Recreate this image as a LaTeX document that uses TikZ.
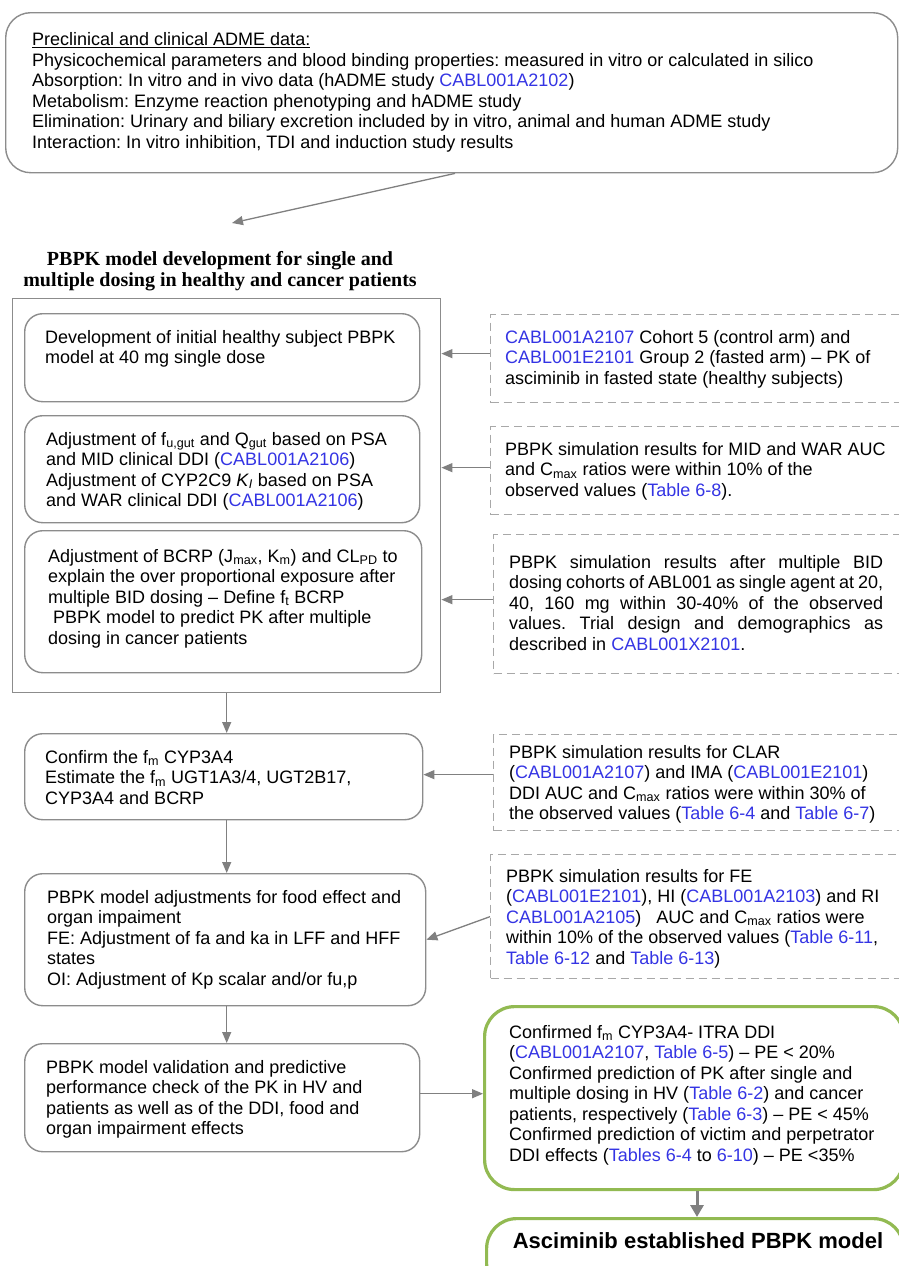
\documentclass[tikz,border=0pt]{standalone}
\usepackage{fontspec}
\setmainfont{Liberation Sans}
\newfontfamily\ttlfont{Liberation Serif}
\usetikzlibrary{arrows.meta}
\definecolor{lkblue}{RGB}{52,52,228}
\definecolor{bordergray}{RGB}{140,140,140}
\definecolor{dashgray}{RGB}{168,168,168}
\definecolor{arrowgray}{RGB}{128,128,128}
\definecolor{boxgreen}{RGB}{146,186,82}
\newcommand\lnk[1]{\textcolor{lkblue}{#1}}
\newcommand\bfnt{\fontsize{18}{20.5}\selectfont}
\frenchspacing
\begin{document}
\begin{tikzpicture}[x=1pt,y=-1pt,
  rbox/.style={draw=bordergray, line width=1.4pt, rounded corners=18pt, anchor=north west, inner sep=0pt},
  sbox/.style={draw=bordergray, line width=1.4pt, anchor=north west, inner sep=0pt},
  dbox/.style={draw=dashgray, line width=1.3pt, dash pattern=on 8pt off 5pt, anchor=north west, inner sep=0pt},
  gbox/.style={draw=boxgreen, line width=3.2pt, rounded corners=30pt, anchor=north west, inner sep=0pt},
  txt/.style={anchor=north west, inner sep=0pt, align=left, font=\bfnt},
  arr/.style={draw=arrowgray, line width=1.3pt, -{Triangle[length=11pt,width=9pt]}},
  arrthick/.style={draw=arrowgray, line width=3pt, -{Triangle[length=12pt,width=13pt]}}]
\useasboundingbox (0,0) rectangle (899,1266);
\fill[white] (0,0) rectangle (899,1266);

% top box
\node[rbox, rounded corners=25pt, minimum width=892pt, minimum height=160pt] (top) at (5,12) {};
\node[txt] (topt) at (32,31) {\strut\underline{Preclinical and clinical ADME data:}\\
Physicochemical parameters and blood binding properties: measured in vitro or calculated in silico\\
Absorption: In vitro and in vivo data (hADME study \lnk{CABL001A2102})\\
Metabolism: Enzyme reaction phenotyping and hADME study\\
Elimination: Urinary and biliary excretion included by in vitro, animal and human ADME study\\
Interaction: In vitro inhibition, TDI and induction study results};

% title
\node[anchor=north, inner sep=0pt, align=center, font=\ttlfont\bfseries\fontsize{20}{19.5}\selectfont] (title) at (220,251.35)
  {\strut PBPK model development for single and\\ multiple dosing in healthy and cancer patients};

% big box and inner boxes
\node[sbox, minimum width=428pt, minimum height=394pt] (big) at (12,298) {};
\node[rbox, minimum width=395pt, minimum height=88pt] (b1) at (24,313) {};
\node[txt] (b1t) at (45,328.65) {\strut Development of initial healthy subject PBPK\\ model at 40 mg single dose};
\node[rbox, minimum width=395pt, minimum height=107pt] (b2) at (24,415) {};
\node[txt] (b2t) at (46,430.65) {\strut Adjustment of f\textsubscript{u,gut} and Q\textsubscript{gut} based on PSA\\ and MID clinical DDI (\lnk{CABL001A2106})\\ Adjustment of CYP2C9 \textit{K}\textsubscript{\textit{I}} based on PSA\\ and WAR clinical DDI (\lnk{CABL001A2106})};
\node[rbox, minimum width=397pt, minimum height=142pt] (b3) at (24,530) {};
\node[txt] (b3t) at (48,547.65) {\strut Adjustment of BCRP (J\textsubscript{max}, K\textsubscript{m}) and CL\textsubscript{PD} to\\ explain the over proportional exposure after\\ multiple BID dosing – Define f\textsubscript{t} BCRP\\ \ PBPK model to predict PK after multiple\\ dosing in cancer patients};

% lower left boxes
\node[rbox, minimum width=398pt, minimum height=86pt] (b4) at (24,733) {};
\node[txt] (b4t) at (45,748.65) {\strut Confirm the f\textsubscript{m} CYP3A4\\ Estimate the f\textsubscript{m} UGT1A3/4, UGT2B17,\\ CYP3A4 and BCRP};
\node[rbox, minimum width=401pt, minimum height=132pt] (b5) at (24,873) {};
\node[txt] (b5t) at (47,888.65) {\strut PBPK model adjustments for food effect and\\ organ impaiment\\ FE: Adjustment of fa and ka in LFF and HFF\\ states\\ OI: Adjustment of Kp scalar and/or fu,p};
\node[rbox, minimum width=395pt, minimum height=108pt] (b6) at (24,1043) {};
\node[txt] (b6t) at (46,1058.65) {\strut PBPK model validation and predictive\\ performance check of the PK in HV and\\ patients as well as of the DDI, food and\\ organ impairment effects};

% dashed boxes
\node[dbox, minimum width=420pt, minimum height=88pt] (d1) at (490,314) {};
\node[txt] (d1t) at (505,328.65) {\strut\lnk{CABL001A2107} Cohort 5 (control arm) and\\ \lnk{CABL001E2101} Group 2 (fasted arm) – PK of\\ asciminib in fasted state (healthy subjects)};
\node[dbox, minimum width=420pt, minimum height=88pt] (d2) at (490,426) {};
\node[txt] (d2t) at (505,440.65) {\strut PBPK simulation results for MID and WAR AUC\\ and C\textsubscript{max} ratios were within 10\% of the\\ observed values (\lnk{Table 6-8}).};
\node[dbox, minimum width=420pt, minimum height=139pt] (d3) at (493,534) {};
\node[txt] (d3t) at (509,553.65) {\strut\makebox[374pt][s]{PBPK simulation results after multiple BID}\\
\makebox[374pt][s]{dosing cohorts of ABL001 as single agent at 20,}\\
\makebox[374pt][s]{40, 160 mg within 30-40\% of the observed}\\
\makebox[374pt][s]{values. Trial design and demographics as}\\
described in \lnk{CABL001X2101}.};
\node[dbox, minimum width=420pt, minimum height=96pt] (d4) at (493,734) {};
\node[txt] (d4t) at (509,743.65) {\strut PBPK simulation results for CLAR\\ (\lnk{CABL001A2107}) and IMA (\lnk{CABL001E2101})\\ DDI AUC and C\textsubscript{max} ratios were within 30\% of\\ the observed values (\lnk{Table 6-4} and \lnk{Table 6-7})};
\node[dbox, minimum width=420pt, minimum height=124pt] (d5) at (490,854) {};
\node[txt] (d5t) at (506,867.65) {\strut PBPK simulation results for FE\\ (\lnk{CABL001E2101}), HI (\lnk{CABL001A2103}) and RI\\ \lnk{CABL001A2105})\ \ \ AUC and C\textsubscript{max} ratios were\\ within 10\% of the observed values (\lnk{Table 6-11},\\ \lnk{Table 6-12} and \lnk{Table 6-13})};

% green boxes
\node[gbox, minimum width=419pt, minimum height=183pt] (g1) at (483,1005) {};
\node[txt] (g1t) at (509,1023.65) {\strut Confirmed f\textsubscript{m} CYP3A4- ITRA DDI\\ (\lnk{CABL001A2107}, \lnk{Table 6-5}) – PE < 20\%\\ Confirmed prediction of PK after single and\\ multiple dosing in HV (\lnk{Table 6-2}) and cancer\\ patients, respectively (\lnk{Table 6-3}) – PE < 45\%\\ Confirmed prediction of victim and perpetrator\\ DDI effects (\lnk{Tables 6-4} to \lnk{6-10}) – PE <35\%};
\node[gbox, minimum width=417pt, minimum height=75pt] (g2) at (485,1217) {};
\node[anchor=base, inner sep=0pt, font=\bfseries\fontsize{22}{26}\selectfont] (g2t) at (698,1248) {Asciminib established PBPK model};

% connectors
\coordinate (tx) at (455,0);
\coordinate (tarr) at (232,223);
\coordinate (gx) at (697,0);
\draw[arr] (top.south -| tx) -- (tarr);
\draw[arr] ([yshift=5pt]d1.west) -- ([yshift=5pt]d1.west -| big.east);
\draw[arr] ([yshift=3pt]d2.west) -- ([yshift=3pt]d2.west -| big.east);
\draw[arr] ([yshift=4.5pt]d3.west) -- ([yshift=4.5pt]d3.west -| big.east);
\draw[arr] (big.south) -- (big.south |- b4.north);
\draw[arr] ([yshift=8pt]d4.west) -- ([yshift=8pt]d4.west -| b4.east);
\draw[arr] (big.south |- b4.south) -- (big.south |- b5.north);
\draw[arr] (d5.west) -- (b5.east);
\draw[arr] (big.south |- b5.south) -- (big.south |- b6.north);
\draw[arr] ([yshift=4pt]b6.east) -- ([yshift=4pt]b6.east -| g1.west);
\draw[arrthick] (g1.south -| gx) -- (g2.north -| gx);
\end{tikzpicture}
\end{document}
